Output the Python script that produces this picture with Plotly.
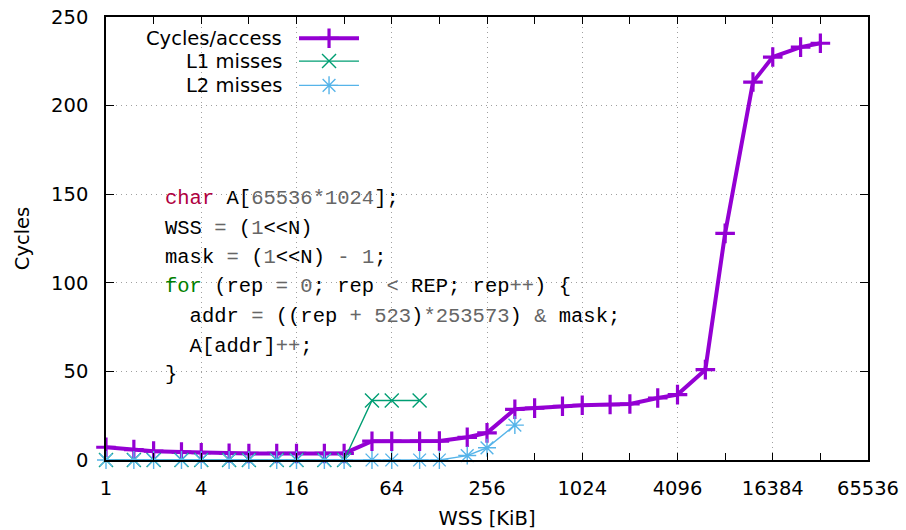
import math
import plotly.graph_objects as go

# ---- data ----
wss_kib = [1, 1.5, 2, 3, 4, 6, 8, 12, 16, 24, 32, 48, 64, 96, 128, 192, 256, 384, 512,
           768, 1024, 1536, 2048, 3072, 4096, 6144, 8192, 12288, 16384, 24576, 32768]
cycles = [7.2, 5.9, 5.0, 4.5, 4.1, 3.8, 3.7, 3.7, 3.7, 3.7, 3.7, 10.6, 10.6, 10.6, 10.7,
          12.8, 15.3, 28.6, 29.3, 30.3, 30.9, 31.3, 31.6, 35.0, 36.9, 51.0, 127.9, 213.3,
          227.4, 233.0, 235.2]

l1_wss = [1, 1.5, 2, 3, 4, 6, 8, 12, 16, 24, 32, 48, 64, 96]
l1_miss = [0, 0, 0, 0, 0, 0, 0, 0, 0, 0, 0, 33.6, 33.6, 33.6]

l2_wss = [1, 1.5, 2, 3, 4, 6, 8, 12, 16, 24, 32, 48, 64, 96, 128, 192, 256, 384]
l2_miss = [0, 0, 0, 0, 0, 0, 0, 0, 0, 0, 0, 0, 0, 0, 0, 2.5, 6.9, 19.7]

x_tickvals = [1, 4, 16, 64, 256, 1024, 4096, 16384, 65536]
x_ticktext = ["1", "4", "16", "64", "256", "1024", "4096", "16384", "65536"]
x_minorvals = [2, 8, 32, 128, 512, 2048, 8192, 32768]
y_tickvals = [0, 50, 100, 150, 200, 250]

series_names = ["Cycles/access", "L1 misses", "L2 misses"]
colors = ["#9400D3", "#009E73", "#56B4E9"]

code_lines = [
    '<span style="color:#B00040">char</span> A[<span style="color:#666666">65536*1024</span>];',
    'WSS <span style="color:#666666">=</span> (<span style="color:#666666">1</span>&lt;&lt;N)',
    'mask <span style="color:#666666">=</span> (<span style="color:#666666">1</span>&lt;&lt;N) <span style="color:#666666">-</span> <span style="color:#666666">1</span>;',
    '<span style="color:#008000">for</span> (rep <span style="color:#666666">=</span> <span style="color:#666666">0</span>; rep <span style="color:#666666">&lt;</span> REP; rep<span style="color:#666666">++</span>) {',
    '  addr <span style="color:#666666">=</span> ((rep <span style="color:#666666">+</span> <span style="color:#666666">523</span>)<span style="color:#666666">*253573</span>) <span style="color:#666666">&amp;</span> mask;',
    '  A[addr]<span style="color:#666666">++</span>;',
    '}',
]

FONT = "DejaVu Sans"
FS = 19.5

fig = go.Figure()

markers = [
    dict(symbol="cross-thin", size=14, line=dict(width=3.2, color=colors[0]), color=colors[0]),
    dict(symbol="x-thin", size=14, line=dict(width=1.4, color=colors[1]), color=colors[1]),
    dict(symbol="asterisk", size=15, line=dict(width=1.4, color=colors[2]), color=colors[2]),
]
widths = [4, 1.4, 1.4]
xs = [wss_kib, l1_wss, l2_wss]
ys = [cycles, l1_miss, l2_miss]

for i in range(3):
    fig.add_trace(go.Scatter(
        x=xs[i], y=ys[i], mode="lines+markers", name=series_names[i],
        line=dict(color=colors[i], width=widths[i]),
        marker=markers[i], cliponaxis=False, showlegend=False,
    ))

# manual legend (text left, sample right) on an overlay axis
leg_rows = [0.952, 0.9005, 0.8457]
for i in range(3):
    fig.add_trace(go.Scatter(
        x=[0.2533, 0.332], y=[leg_rows[i], leg_rows[i]], mode="lines",
        line=dict(color=colors[i], width=widths[i]),
        xaxis="x2", yaxis="y2", showlegend=False, hoverinfo="skip", cliponaxis=False,
    ))
    fig.add_trace(go.Scatter(
        x=[0.2927], y=[leg_rows[i]], mode="markers", marker=markers[i],
        xaxis="x2", yaxis="y2", showlegend=False, hoverinfo="skip", cliponaxis=False,
    ))
    fig.add_annotation(
        x=0.2336, y=leg_rows[i], xref="paper", yref="paper", text=series_names[i],
        showarrow=False, xanchor="right", yanchor="middle",
        font=dict(family=FONT, size=FS, color="black"),
    )

code_rows = [0.590, 0.523, 0.457, 0.391, 0.324, 0.257, 0.194]
for txt, yy in zip(code_lines, code_rows):
    fig.add_annotation(
        x=0.0744, y=yy, xref="paper", yref="paper",
        text=txt.replace(" ", "\u00a0").replace("<span\u00a0style", "<span style"),
        showarrow=False, xanchor="left", yanchor="middle", align="left",
        font=dict(family="Liberation Mono, Courier New, monospace", size=20.5, color="black"),
    )

axis_common = dict(
    showline=True, linecolor="black", linewidth=1.5, mirror="ticks",
    ticks="inside", tickcolor="black", tickwidth=1,
    showgrid=True, gridcolor="#a0a0a0", griddash="1px,4px", gridwidth=1,
    zeroline=False, tickfont=dict(family=FONT, size=FS, color="black"),
    automargin=False,
)

fig.update_layout(
    width=906, height=530,
    margin=dict(l=106, r=38, t=17, b=70),
    paper_bgcolor="white", plot_bgcolor="white",
    xaxis=dict(
        type="log", range=[0, math.log10(65536)],
        tickmode="array", tickvals=x_tickvals, ticktext=x_ticktext, ticklen=7,
        minor=dict(tickmode="array", tickvals=x_minorvals, ticks="inside", ticklen=7,
                   tickcolor="black", showgrid=False),
        ticklabelstandoff=10,
        title=dict(text="WSS [KiB]", font=dict(family=FONT, size=FS, color="black"), standoff=14),
        **axis_common,
    ),
    yaxis=dict(
        range=[0, 250], tickmode="array", tickvals=y_tickvals, ticklen=8,
        ticklabelstandoff=12,
        title=dict(text="Cycles", font=dict(family=FONT, size=FS, color="black"), standoff=16),
        **axis_common,
    ),
    xaxis2=dict(overlaying="x", range=[0, 1], visible=False),
    yaxis2=dict(overlaying="y", range=[0, 1], visible=False),
    showlegend=False,
)

fig.write_html(
    "out.html",
    config={"displayModeBar": False},
    post_script="document.body.style.margin='0';document.body.style.padding='0';",
)
